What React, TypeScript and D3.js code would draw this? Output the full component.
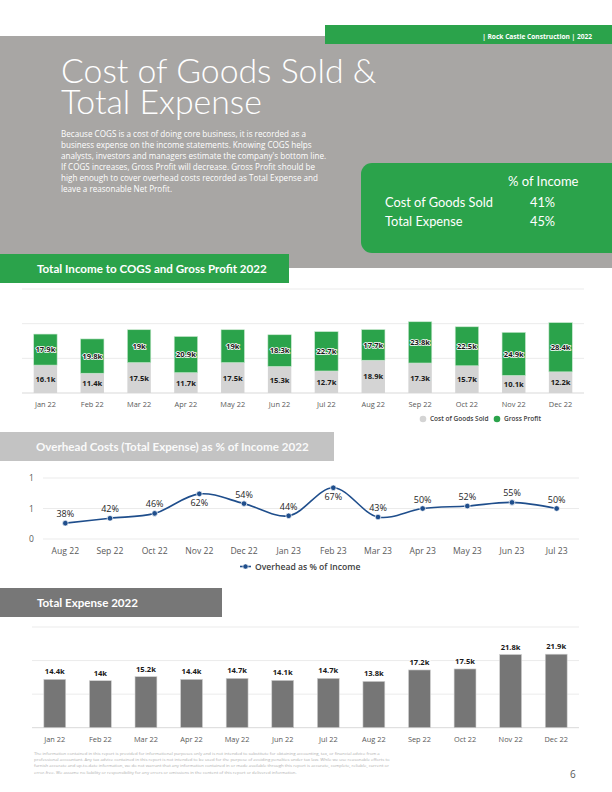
import React from "react";
import * as d3 from "d3";

const months22 = ["Jan 22","Feb 22","Mar 22","Apr 22","May 22","Jun 22","Jul 22","Aug 22","Sep 22","Oct 22","Nov 22","Dec 22"];
const cogs = [16.1, 11.4, 17.5, 11.7, 17.5, 15.3, 12.7, 18.9, 17.3, 15.7, 10.1, 12.2];
const grossProfit = [17.9, 19.8, 19, 20.9, 19, 18.3, 22.7, 17.7, 23.8, 22.5, 24.9, 28.4];
const incomeTicks = [0, 20, 40, 60];

const overheadMonths = ["Aug 22","Sep 22","Oct 22","Nov 22","Dec 22","Jan 23","Feb 23","Mar 23","Apr 23","May 23","Jun 23","Jul 23"];
const overheadPct = [0.38, 0.42, 0.46, 0.62, 0.54, 0.44, 0.67, 0.43, 0.50, 0.52, 0.55, 0.50];
const overheadTicks = [0.25, 0.5, 0.75];
const overheadTickLabels = ["0", "1", "1"];

const totalExpense = [14.4, 14, 15.2, 14.4, 14.7, 14.1, 14.7, 13.8, 17.2, 17.5, 21.8, 21.9];
const expenseTicks = [0, 10, 20, 30];

const summaryRows = ["Cost of Goods Sold", "Total Expense"];
const summaryPct = ["41%", "45%"];

const titleLines = ["Cost of Goods Sold &", "Total Expense"];
const introLines = [
  "Because COGS is a cost of doing core business, it is recorded as a",
  "business expense on the income statements. Knowing COGS helps",
  "analysts, investors and managers estimate the company's bottom line.",
  "If COGS increases, Gross Profit will decrease. Gross Profit should be",
  "high enough to cover overhead costs recorded as Total Expense and",
  "leave a reasonable Net Profit.",
];
const footerLines = [
  "The information contained in this report is provided for informational purposes only and is not intended to substitute for obtaining accounting, tax, or financial advice from a",
  "professional accountant. Any tax advice contained in this report is not intended to be used for the purpose of avoiding penalties under tax law. While we use reasonable efforts to",
  "furnish accurate and up-to-date information, we do not warrant that any information contained in or made available through this report is accurate, complete, reliable, current or",
  "error-free. We assume no liability or responsibility for any errors or omissions in the content of this report or delivered information.",
];

const GREEN = "#2ba34b";
const GRAYBG = "#a8a6a4";
const LBL = "'Open Sans', sans-serif";
const HDR = "Lato, sans-serif";

const fmtK = (v: number) => `${v}k`;
const fmtPct = d3.format(".0%");

export default function App() {
  // Chart 1
  const x1 = d3.scaleBand<string>().domain(months22).range([22, 584]).paddingInner(0.5).paddingOuter(0.25);
  const y1 = d3.scaleLinear().domain([0, 60]).range([393, 289]);

  // Chart 2
  const x2 = d3.scalePoint<string>().domain(overheadMonths).range([43, 579]).padding(0.5);
  const y2 = d3.scaleLinear().domain([0.25, 0.75]).range([539, 478]);
  const line = d3
    .line<number>()
    .x((_, i) => x2(overheadMonths[i]) as number)
    .y((d) => y2(d))
    .curve(d3.curveCatmullRom.alpha(0.5));

  // Chart 3
  const x3 = d3.scaleBand<string>().domain(months22).range([32, 579]).paddingInner(0.52).paddingOuter(0.26);
  const y3 = d3.scaleLinear().domain([0, 30]).range([727.7, 627]);

  return (
    <svg width={612} height={792} style={{ position: "absolute", left: 0, top: 0, background: "#fff" }}>
      {/* Header */}
      <rect x={0} y={36} width={612} height={232} fill={GRAYBG} />
      <rect x={325} y={25} width={287} height={19} fill={GREEN} />
      <text x={592} y={38.5} textAnchor="end" fill="#fff" fontFamily={LBL} fontWeight={700} fontSize={6.6}>
        | Rock Castle Construction | 2022
      </text>
      <text fill="#fff" fontFamily={HDR} fontWeight={300} fontSize={33.8}>
        {titleLines.map((t, i) => (
          <tspan key={i} x={61} y={83 + i * 31}>{t}</tspan>
        ))}
      </text>
      {introLines.map((l, i) => (
        <text key={i} x={61} y={137 + i * 11} fill="#fff" fontFamily={LBL} fontSize={8.1}>{l}</text>
      ))}
      <rect x={361} y={163} width={262} height={90} rx={11} fill={GREEN} />
      <text x={508} y={186} fill="#fff" fontFamily={HDR} fontSize={13}>% of Income</text>
      {summaryRows.map((r, i) => (
        <g key={r}>
          <text x={385} y={207 + i * 19} fill="#fff" fontFamily={HDR} fontSize={12.8}>{r}</text>
          <text x={530} y={207 + i * 19} fill="#fff" fontFamily={HDR} fontSize={12.8}>{summaryPct[i]}</text>
        </g>
      ))}

      {/* Chart 1 */}
      <rect x={0} y={254} width={289} height={29} fill={GREEN} />
      <text x={37} y={273} fill="#fff" fontFamily={HDR} fontWeight={700} fontSize={11.6}>Total Income to COGS and Gross Profit 2022</text>
      {incomeTicks.map((t) => (
        <line key={t} x1={22} x2={584} y1={y1(t)} y2={y1(t)} stroke={t === 0 ? "#d9d9d9" : "#ebebeb"} strokeWidth={1} />
      ))}
      {months22.map((m, i) => {
        const bx = x1(m) as number;
        const bw = x1.bandwidth();
        const c = cogs[i];
        const g = grossProfit[i];
        return (
          <g key={m}>
            <rect x={bx} y={y1(c)} width={bw} height={y1(0) - y1(c)} fill="#d4d4d4" />
            <rect x={bx} y={y1(c + g)} width={bw} height={y1(c) - y1(c + g)} fill={GREEN} stroke="#c9e8cf" strokeWidth={0.6} />
            <text x={bx + bw / 2} y={(y1(0) + y1(c)) / 2 + 2.8} textAnchor="middle" fontFamily={LBL} fontWeight={700} fontSize={7.6} fill="#1a1a1a">{fmtK(c)}</text>
            <text x={bx + bw / 2} y={(y1(c) + y1(c + g)) / 2 + 2.8} textAnchor="middle" fontFamily={LBL} fontWeight={700} fontSize={7.6} fill="#1a1a1a" stroke="#fff" strokeWidth={1.6} paintOrder="stroke" strokeLinejoin="round">{fmtK(g)}</text>
            <text x={bx + bw / 2} y={407} textAnchor="middle" fontFamily={LBL} fontSize={7.4} fill="#595959">{m}</text>
          </g>
        );
      })}
      <circle cx={423} cy={419} r={3.3} fill="#d4d4d4" />
      <text x={430} y={421.4} fontFamily={LBL} fontWeight={600} fontSize={6.5} fill="#404040">Cost of Goods Sold</text>
      <circle cx={497} cy={419} r={3.3} fill={GREEN} />
      <text x={504} y={421.4} fontFamily={LBL} fontWeight={600} fontSize={6.5} fill="#404040">Gross Profit</text>

      {/* Chart 2 */}
      <rect x={0} y={432} width={334} height={29} fill="#c3c3c3" />
      <text x={36} y={451} fill="#fafafa" fontFamily={HDR} fontWeight={700} fontSize={11.6}>Overhead Costs (Total Expense) as % of Income 2022</text>
      {overheadTicks.map((t, i) => (
        <g key={t}>
          <line x1={43} x2={579} y1={y2(t)} y2={y2(t)} stroke="#ebebeb" strokeWidth={1} />
          <text x={29} y={y2(t) + 3} fontFamily={LBL} fontSize={8.5} fill="#595959" textAnchor="start">{overheadTickLabels[i]}</text>
        </g>
      ))}
      <path d={line(overheadPct) || ""} fill="none" stroke="#1f4e8c" strokeWidth={1.6} />
      {overheadPct.map((v, i) => {
        const cx = x2(overheadMonths[i]) as number;
        const cy = y2(v);
        const below = v > 0.6;
        return (
          <g key={i}>
            <circle cx={cx} cy={cy} r={2.8} fill="#1f4e8c" stroke="#fff" strokeWidth={0.7} />
            <text x={cx} y={below ? cy + 12.5 : cy - 6} textAnchor="middle" fontFamily={LBL} fontSize={9} fill="#262626">{fmtPct(v)}</text>
            <text x={cx} y={553.5} textAnchor="middle" fontFamily={LBL} fontSize={8.6} fill="#595959">{overheadMonths[i]}</text>
          </g>
        );
      })}
      <line x1={240} x2={251} y1={566.5} y2={566.5} stroke="#1f4e8c" strokeWidth={1.6} />
      <circle cx={245.5} cy={566.5} r={2.6} fill="#1f4e8c" stroke="#fff" strokeWidth={0.6} />
      <text x={255} y={569.6} fontFamily={LBL} fontWeight={600} fontSize={8.6} fill="#404040">Overhead as % of Income</text>

      {/* Chart 3 */}
      <rect x={0} y={588} width={222} height={29} fill="#777777" />
      <text x={37} y={607} fill="#fff" fontFamily={HDR} fontWeight={700} fontSize={11.6}>Total Expense 2022</text>
      {expenseTicks.map((t) => (
        <line key={t} x1={32} x2={579} y1={y3(t)} y2={y3(t)} stroke={t === 0 ? "#d9d9d9" : "#ebebeb"} strokeWidth={1} />
      ))}
      {months22.map((m, i) => {
        const bx = x3(m) as number;
        const bw = x3.bandwidth();
        const v = totalExpense[i];
        return (
          <g key={m}>
            <rect x={bx} y={y3(v)} width={bw} height={y3(0) - y3(v)} fill="#767676" stroke="#d0d0d0" strokeWidth={0.6} />
            <text x={bx + bw / 2} y={y3(v) - 5} textAnchor="middle" fontFamily={LBL} fontWeight={700} fontSize={7.6} fill="#1a1a1a" stroke="#fff" strokeWidth={1.4} paintOrder="stroke">{fmtK(v)}</text>
            <text x={bx + bw / 2} y={741.5} textAnchor="middle" fontFamily={LBL} fontSize={7.4} fill="#595959">{m}</text>
          </g>
        );
      })}

      {/* Footer */}
      {footerLines.map((l, i) => (
        <text key={i} x={34} y={755 + i * 6.2} fontFamily={LBL} fontSize={4.3} fill="#b0b0b0">{l}</text>
      ))}
      <text x={570} y={778} fontFamily={LBL} fontSize={10} fill="#595959">6</text>
    </svg>
  );
}
